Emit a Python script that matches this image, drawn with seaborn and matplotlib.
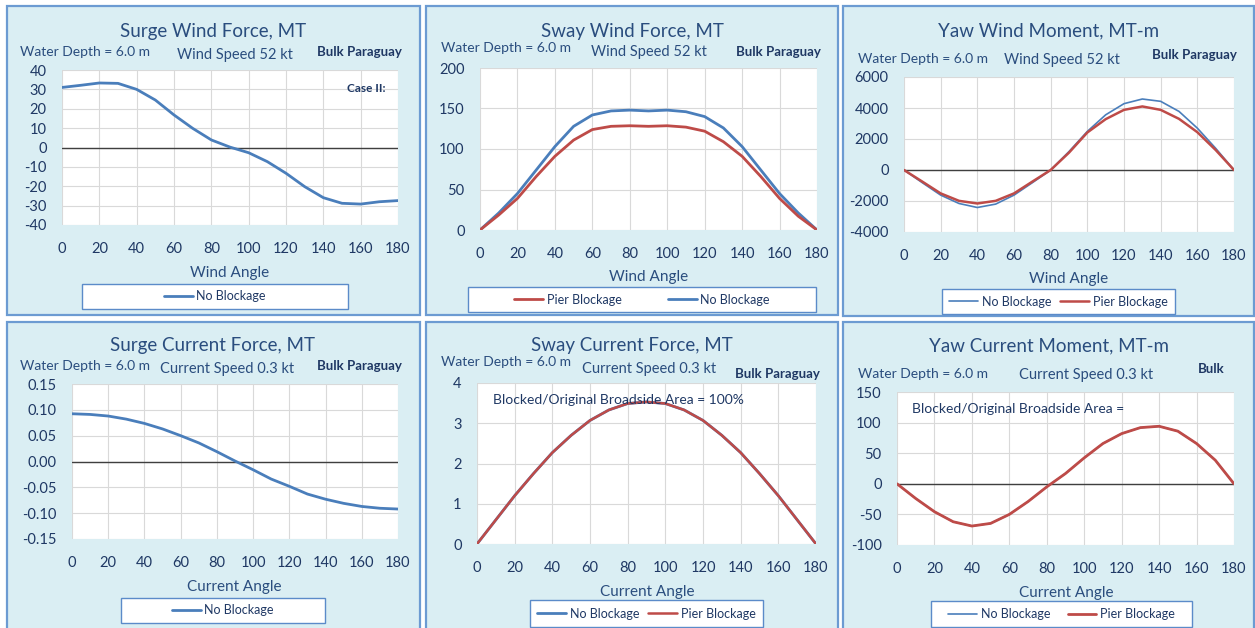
import matplotlib
matplotlib.use("Agg")
import matplotlib.pyplot as plt
from matplotlib.patches import Rectangle
import seaborn as sns

sns.set_style("white")
plt.rcParams['font.family'] = ['Lato', 'DejaVu Sans']
plt.rcParams['axes.unicode_minus'] = False

# ---- data (angles every 10 degrees) ----
angles = list(range(0, 181, 10))

surge_wind_none = [31.0, 32.1, 33.3, 33.1, 30.0, 24.5, 16.8, 9.9, 3.9, 0.2,
                   -2.7, -7.3, -13.3, -20.2, -25.9, -28.8, -29.2, -28.0, -27.4]

sway_wind_none = [0, 21, 45, 74, 103, 128, 142, 147, 148, 147,
                  148, 146, 140, 126, 103, 74, 45, 21, 0]
sway_wind_pier = [0, 18.5, 39, 66, 91, 111, 124, 128, 128.7, 128,
                  128.7, 127, 122, 109, 91, 66, 39, 17, 0]

yaw_wind_none = [0, -820, -1620, -2160, -2420, -2200, -1620, -820, 0, 1190,
                 2490, 3560, 4280, 4580, 4430, 3780, 2700, 1400, 0]
yaw_wind_pier = [0, -750, -1510, -1990, -2160, -1990, -1510, -750, 0, 1120,
                 2420, 3280, 3880, 4100, 3880, 3300, 2440, 1290, 0]

surge_cur_none = [0.0924, 0.0911, 0.088, 0.082, 0.0737, 0.063, 0.050, 0.036, 0.019, 0.001,
                  -0.016, -0.034, -0.048, -0.063, -0.073, -0.081, -0.087, -0.0905, -0.092]

sway_cur_none = [0, 0.60, 1.20, 1.75, 2.27, 2.70, 3.07, 3.33, 3.49, 3.53,
                 3.49, 3.33, 3.07, 2.70, 2.27, 1.75, 1.20, 0.60, 0]
sway_cur_pier = [0, 0.60, 1.20, 1.75, 2.27, 2.70, 3.07, 3.33, 3.49, 3.53,
                 3.49, 3.33, 3.07, 2.70, 2.27, 1.75, 1.20, 0.60, 0]

yaw_cur_none = [0, -24, -45.6, -62, -69, -64.7, -50, -29, -5, 16.8,
                42.4, 65.8, 82, 91.8, 94, 86, 65.8, 38.6, 0]
yaw_cur_pier = [0, -24, -45.6, -62, -69, -64.7, -50, -29, -5, 16.8,
                42.4, 65.8, 82, 91.8, 94, 86, 65.8, 38.6, 0]

BLUE = "#4A7EBB"
RED = "#BE4B48"
TXT = "#1F3864"
TITLE = "#2A4D7E"
BG = "#DAEEF3"
EDGE = "#6C9BD2"

W, H = 1255, 628


def fx(x):
    return x / W


def fy(y):
    return 1 - y / H


def box(x0, y0, x1, y1):
    return [x0 / W, 1 - y1 / H, (x1 - x0) / W, (y1 - y0) / H]


panels = [
    dict(frame=(7, 6, 420, 315), plot=(62, 70, 398, 225), ylim=(-40, 40), step=10, fmt="{:.0f}",
         title=("Surge Wind Force, MT", 213, 31), depth=(20, 52), speed=("Wind Speed 52 kt", 177, 55),
         bulk=("Bulk Paraguay", 317, 52), xlabel=("Wind Angle", 230, 273), zero=True,
         series=[("No Blockage", surge_wind_none, BLUE, 2.0)], order=[0],
         legbox=(82, 284, 348, 309), colsp=1.0, note=("Case II:", 347, 89, 8.5, True)),
    dict(frame=(426, 6, 838, 315), plot=(480, 68, 817, 230), ylim=(0, 200), step=50, fmt="{:.0f}",
         title=("Sway Wind Force, MT", 632, 31), depth=(441, 48), speed=("Wind Speed 52 kt", 591, 52),
         bulk=("Bulk Paraguay", 736, 52), xlabel=("Wind Angle", 649, 277), zero=False,
         series=[("No Blockage", sway_wind_none, BLUE, 2.0), ("Pier Blockage", sway_wind_pier, RED, 2.0)],
         order=[1, 0], legbox=(468, 287, 816, 312), colsp=3.7, note=None),
    dict(frame=(843, 6, 1254, 316), plot=(904, 77, 1234, 232), ylim=(-4000, 6000), step=2000, fmt="{:.0f}",
         title=("Yaw Wind Moment, MT-m", 1049, 31), depth=(858, 59), speed=("Wind Speed 52 kt", 1004, 60),
         bulk=("Bulk Paraguay", 1152, 55), xlabel=("Wind Angle", 1069, 279), zero=True,
         series=[("No Blockage", yaw_wind_none, BLUE, 1.2), ("Pier Blockage", yaw_wind_pier, RED, 1.8)],
         order=[0, 1], legbox=(942, 289, 1175, 314), colsp=0.7, note=None),
    dict(frame=(7, 322, 420, 640), plot=(72, 384, 398, 539), ylim=(-0.15, 0.15), step=0.05, fmt="{:.2f}",
         title=("Surge Current Force, MT", 213, 346), depth=(20, 366), speed=("Current Speed 0.3 kt", 160, 369),
         bulk=("Bulk Paraguay", 317, 366), xlabel=("Current Angle", 234, 587), zero=True,
         series=[("No Blockage", surge_cur_none, BLUE, 2.0)], order=[0],
         legbox=(121, 598, 325, 623), colsp=1.0, note=None),
    dict(frame=(426, 322, 838, 640), plot=(477, 383, 816, 544), ylim=(0, 4), step=1, fmt="{:.0f}",
         title=("Sway Current Force, MT", 632, 346), depth=(441, 362), speed=("Current Speed 0.3 kt", 582, 369),
         bulk=("Bulk Paraguay", 735, 374), xlabel=("Current Angle", 647, 592), zero=False,
         series=[("No Blockage", sway_cur_none, BLUE, 2.0), ("Pier Blockage", sway_cur_pier, RED, 1.8)],
         order=[0, 1], legbox=(530, 600, 763, 627), colsp=0.7,
         note=("Blocked/Original Broadside Area = 100%", 493, 400, 10, False)),
    dict(frame=(843, 322, 1254, 640), plot=(897, 392, 1234, 545), ylim=(-100, 150), step=50, fmt="{:.0f}",
         title=("Yaw Current Moment, MT-m", 1049, 346), depth=(858, 374), speed=("Current Speed 0.3 kt", 1019, 375),
         bulk=("Bulk", 1198, 369), xlabel=("Current Angle", 1066, 593), zero=True,
         series=[("No Blockage", yaw_cur_none, BLUE, 1.2), ("Pier Blockage", yaw_cur_pier, RED, 2.0)],
         order=[0, 1], legbox=(931, 601, 1192, 627), colsp=1.4,
         note=("Blocked/Original Broadside Area =", 912, 409, 10, False)),
]

fig = plt.figure(figsize=(W / 100, H / 100), dpi=100)
fig.patch.set_facecolor("white")

for p in panels:
    x0, y0, x1, y1 = p["frame"]
    fig.patches.append(Rectangle((fx(x0), fy(y1)), (x1 - x0) / W, (y1 - y0) / H,
                                 transform=fig.transFigure, facecolor=BG, edgecolor=EDGE,
                                 lw=1.6, zorder=-3))

    ax = fig.add_axes(box(*p["plot"]))
    ax.set_facecolor("white")
    lo, hi = p["ylim"]
    ax.set_xlim(0, 180)
    ax.set_ylim(lo, hi)
    ax.set_xticks(range(0, 181, 20))
    n = int(round((hi - lo) / p["step"]))
    yt = [lo + i * p["step"] for i in range(n + 1)]
    ax.set_yticks(yt)
    ax.set_yticklabels([p["fmt"].format(v) for v in yt])
    ax.grid(True, color="#D9D9D9", lw=0.8)
    ax.set_axisbelow(True)
    for s in ax.spines.values():
        s.set_visible(False)
    ax.tick_params(axis="both", length=0, labelsize=10.5, labelcolor=TXT)
    ax.tick_params(axis="x", pad=12)
    ax.tick_params(axis="y", pad=11)

    if p["zero"]:
        ax.axhline(0, color="#3F3F3F", lw=1.0, zorder=1)

    for label, vals, col, lw in p["series"]:
        sns.lineplot(x=angles, y=vals, ax=ax, color=col, lw=lw, label=label, zorder=3)
    if ax.get_legend() is not None:
        ax.get_legend().remove()
    handles, labels = ax.get_legend_handles_labels()
    handles = [handles[i] for i in p["order"]]
    labels = [labels[i] for i in p["order"]]
    ax.set_xlabel("")
    ax.set_ylabel("")

    # legend box
    lx0, ly0, lx1, ly1 = p["legbox"]
    fig.patches.append(Rectangle((fx(lx0), fy(ly1)), (lx1 - lx0) / W, (ly1 - ly0) / H,
                                 transform=fig.transFigure, facecolor="white", edgecolor="#5B8BC9",
                                 lw=1.0, zorder=-1))
    fig.legend(handles, labels, loc="center",
               bbox_to_anchor=(fx((lx0 + lx1) / 2), fy((ly0 + ly1) / 2)),
               bbox_transform=fig.transFigure, ncol=len(labels), frameon=False,
               fontsize=9, handlelength=2.3, handletextpad=0.3, columnspacing=p["colsp"],
               labelcolor=TXT, borderaxespad=0, borderpad=0)

    t, tx, ty = p["title"]
    fig.text(fx(tx), fy(ty), t, ha="center", va="center", fontsize=13.5, color=TITLE)
    fig.text(fx(p["depth"][0]), fy(p["depth"][1]), "Water Depth = 6.0 m",
             ha="left", va="center", fontsize=10, color=TITLE)
    s, sx, sy = p["speed"]
    fig.text(fx(sx), fy(sy), s, ha="left", va="center", fontsize=10.5, color=TITLE)
    b, bx, by = p["bulk"]
    fig.text(fx(bx), fy(by), b, ha="left", va="center", fontsize=9.5, fontweight="bold", color=TXT)
    xl, xlx, xly = p["xlabel"]
    fig.text(fx(xlx), fy(xly), xl, ha="center", va="center", fontsize=11, color=TITLE)
    if p["note"] is not None:
        nt, nx, ny, nfs, nb = p["note"]
        fig.text(fx(nx), fy(ny), nt, ha="left", va="center", fontsize=nfs,
                 fontweight="bold" if nb else "normal", color=TXT, zorder=6)

fig.savefig("out.png", dpi=100)
